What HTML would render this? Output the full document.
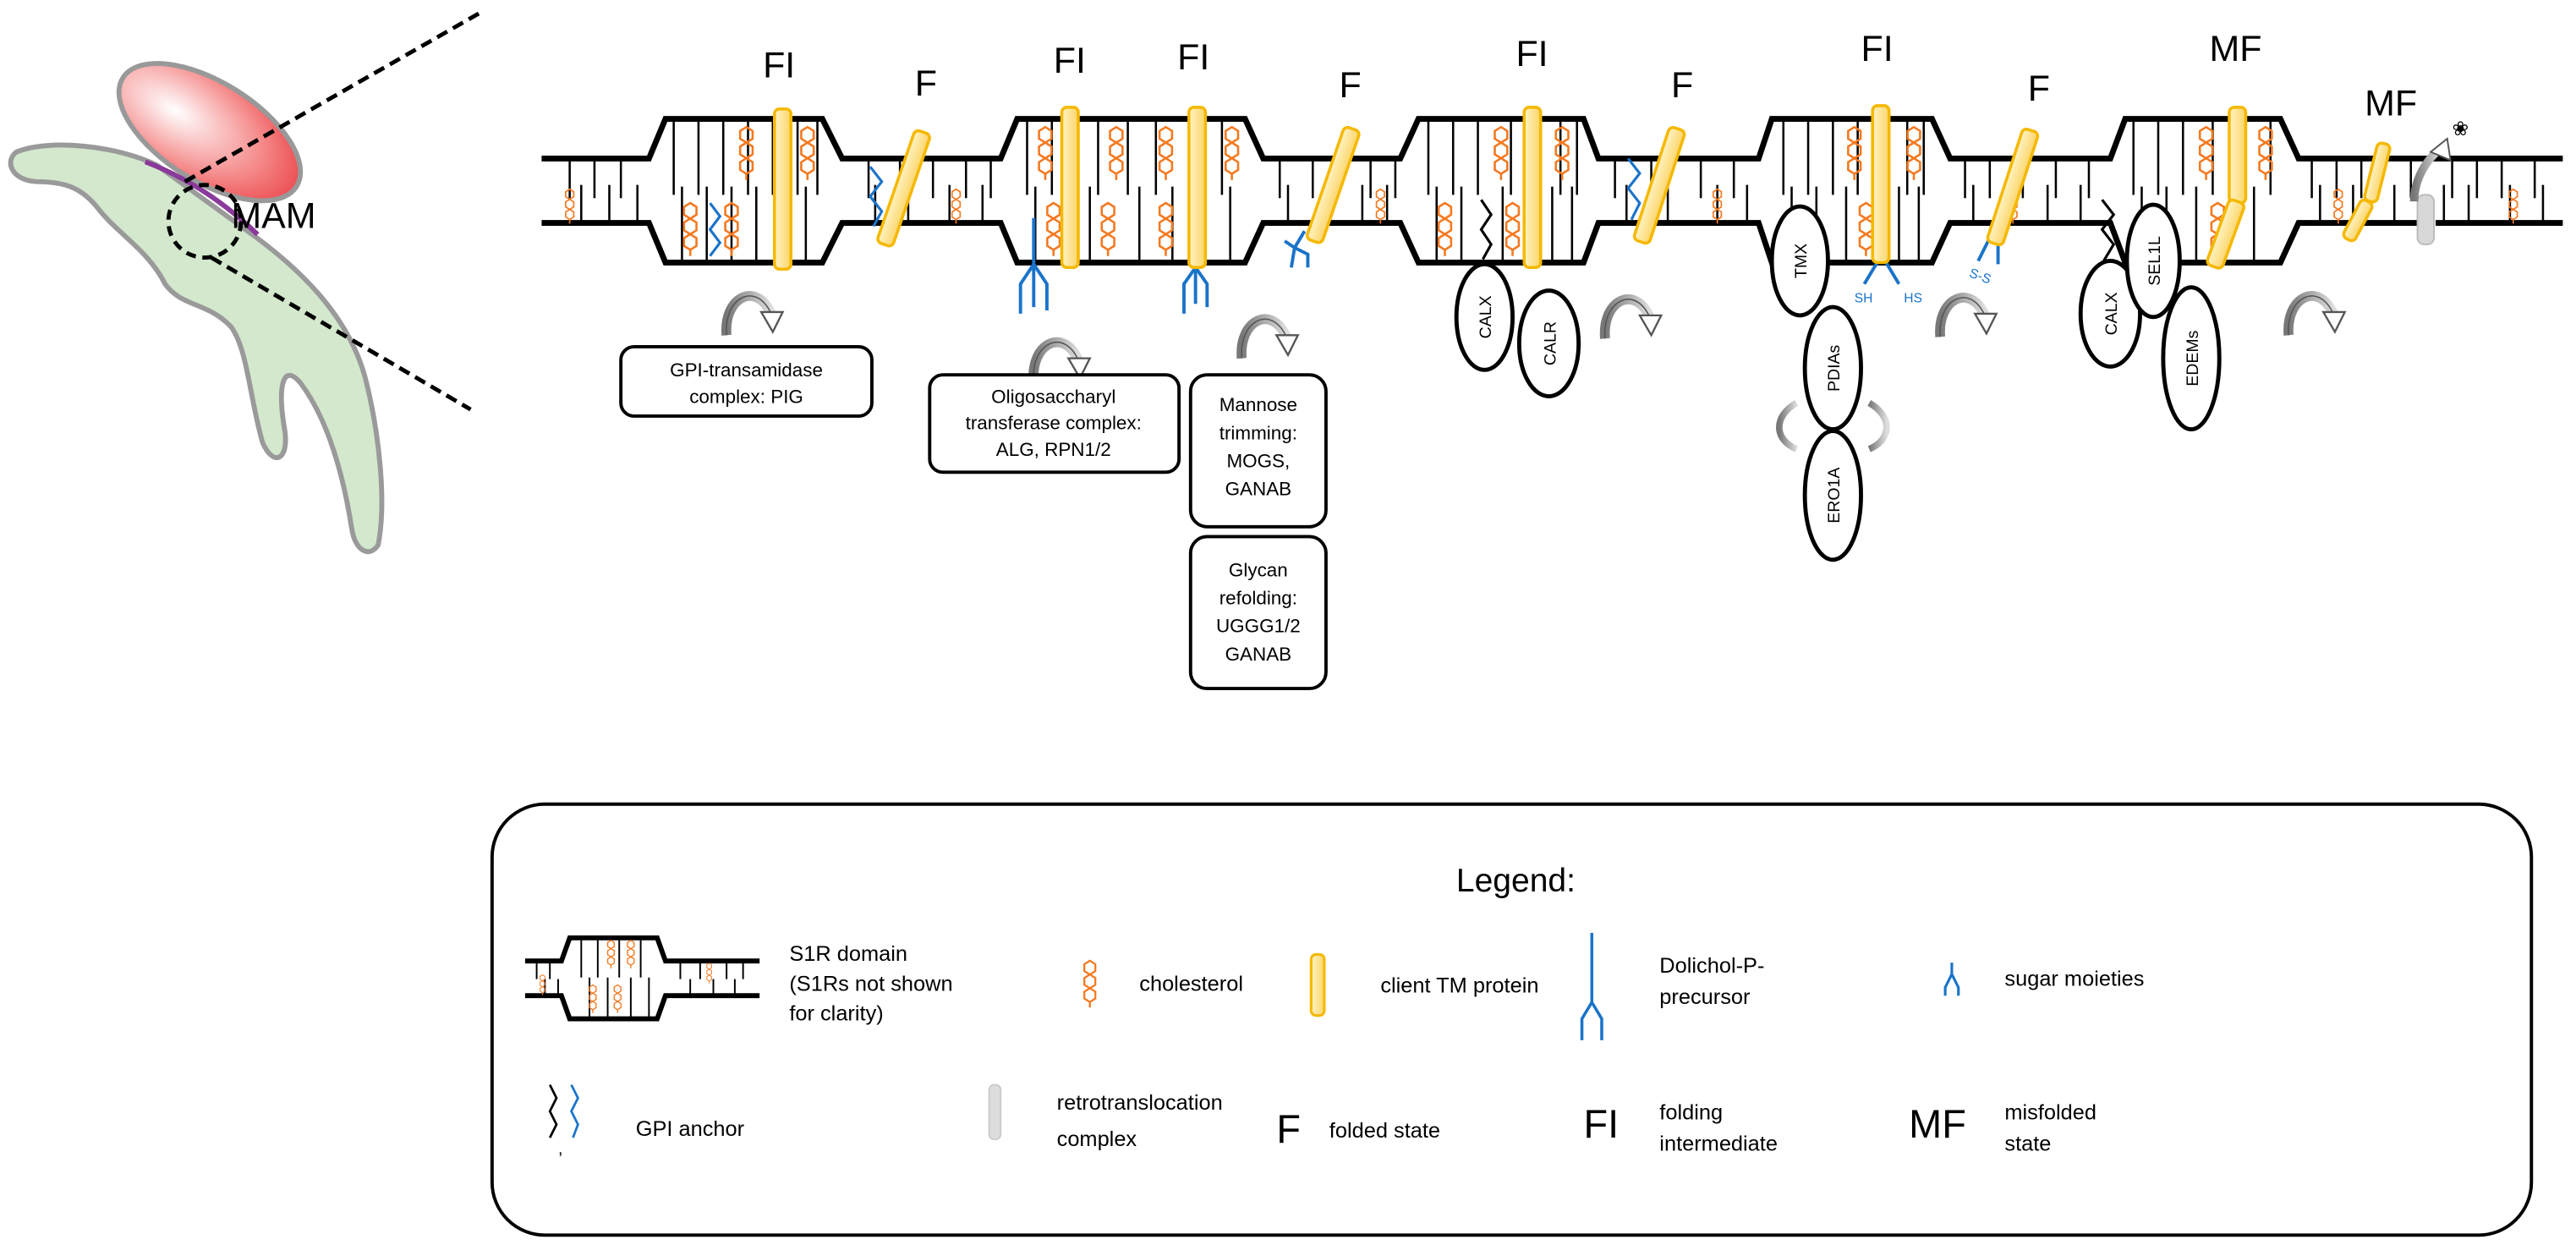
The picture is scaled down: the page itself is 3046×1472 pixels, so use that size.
<!DOCTYPE html>
<html><head><meta charset="utf-8"><style>
html,body{margin:0;padding:0;background:#fff;}
svg{display:block;}
text{font-family:"Liberation Sans",sans-serif;}
</style></head><body>
<svg width="3046" height="1472" viewBox="0 0 1560 754" preserveAspectRatio="none" xmlns="http://www.w3.org/2000/svg">
<defs>
<linearGradient id="tm" x1="0" x2="1"><stop offset="0" stop-color="#fff3c4"/><stop offset="1" stop-color="#fbd56a"/></linearGradient>
<radialGradient id="mam" cx="0.3" cy="0.5" r="0.8"><stop offset="0" stop-color="#ffffff"/><stop offset="0.6" stop-color="#f58a8a"/><stop offset="1" stop-color="#e8343a"/></radialGradient>
<linearGradient id="gr" x1="0" x2="1"><stop offset="0" stop-color="#777"/><stop offset="1" stop-color="#ddd"/></linearGradient>
<symbol id="ch" viewBox="0 0 12 36"><g fill="none" stroke="#f47920" stroke-width="1.4"><polygon points="6,1 10,3.5 10,8.5 6,11 2,8.5 2,3.5"/><polygon points="6,11 10,13.5 10,18.5 6,21 2,18.5 2,13.5"/><polygon points="6,21 10,23.5 10,28.5 6,31 2,28.5 2,23.5"/><line x1="6" y1="31" x2="6" y2="35"/></g></symbol>
<symbol id="rot" viewBox="0 0 44 32"><path d="M6,31 C4,8 24,-2 33,18" fill="none" stroke="url(#gr)" stroke-width="6"/><path d="M6,31 C4,8 24,-2 33,18" fill="none" stroke="#555" stroke-width="0.8"/><polygon points="27,17 40,17 34,29" fill="#fff" stroke="#555" stroke-width="1.2"/></symbol>
</defs>

<!-- left cell -->
<path d="M10,92 C30,84 70,88 95,100 L150,140 C178,160 212,190 222,232 C230,265 234,305 229,330 C224,338 215,334 213,320 C207,282 197,252 182,232 C172,220 168,232 172,258 C176,278 166,284 159,268 C151,240 150,212 140,198 C126,183 110,186 100,172 C90,152 72,142 60,127 C50,114 40,110 22,110 C6,109 3,97 10,92 Z" fill="#d3e8cd" stroke="#9a9a9a" stroke-width="3"/>
<ellipse cx="127" cy="80" rx="62" ry="30" transform="rotate(32 127 80)" fill="url(#mam)" stroke="#999" stroke-width="3"/>
<path d="M88,98 Q125,112 156,142" fill="none" stroke="#8a3a9a" stroke-width="3"/>
<circle cx="124" cy="134" r="22" fill="none" stroke="#000" stroke-width="2.5" stroke-dasharray="6,4"/>
<text x="140" y="138" font-size="22">MAM</text>
<line x1="112" y1="110" x2="292" y2="7" stroke="#000" stroke-width="2.5" stroke-dasharray="7,4"/>
<line x1="128" y1="156" x2="285" y2="248" stroke="#000" stroke-width="2.5" stroke-dasharray="7,4"/>

<!-- membrane leaflet lines -->
<g stroke="#000" stroke-width="1.3">
<path d="M345,96V120 M360,96V120 M376,96V120 M352,112V135 M369,112V135 M386,112V135
M408,72V118 M423,72V118 M438,72V118 M453,72V118 M468,72V118 M483,72V118 M495,72V118
M413,113V159 M428,113V159 M443,113V159 M458,113V159 M473,113V159 M488,113V159
M526,96V120 M545,96V120 M565,96V120 M585,96V120 M600,96V120 M530,112V135 M550,112V135 M575,112V135 M595,112V135
M622,72V118 M637,72V118 M665,72V118 M683,72V118 M700,72V118 M740,72V118 M627,113V159 M645,113V159 M660,113V159 M690,113V159 M710,113V159 M745,113V159
M775,96V120 M795,96V120 M830,96V120 M845,96V120 M780,112V135 M805,112V135 M825,112V135 M840,112V135
M865,72V118 M880,72V118 M895,72V118 M915,72V118 M945,72V118 M955,72V118 M870,113V159 M885,113V159 M910,113V159 M940,113V159 M952,113V159
M978,96V120 M1000,96V120 M1030,96V120 M1050,96V120 M985,112V135 M1010,112V135 M1040,112V135 M1058,112V135
M1080,72V118 M1095,72V118 M1110,72V118 M1125,72V118 M1155,72V118 M1165,72V118 M1085,113V159 M1100,113V159 M1118,113V159 M1150,113V159 M1162,113V159
M1190,96V120 M1205,96V120 M1225,96V120 M1245,96V120 M1265,96V120 M1195,112V135 M1215,112V135 M1240,112V135 M1260,112V135
M1292,72V118 M1307,72V118 M1322,72V118 M1340,72V118 M1375,72V118 M1297,113V159 M1312,113V159 M1330,113V159 M1365,113V159
M1400,96V120 M1415,96V120 M1430,96V120 M1460,96V120 M1485,96V120 M1500,96V120 M1515,96V120 M1535,96V120 M1405,112V135 M1425,112V135 M1450,112V135 M1480,112V135 M1495,112V135 M1520,112V135 M1540,112V135"/>
</g>
<!-- membrane outline -->
<path d="M328,96 H393 L403,72 H498 L510,96 H606 L616,72 H754 L765,96 H848 L859,72 H959 L968,96 H1065 L1073,72 H1170 L1181,96 H1278 L1287,72 H1381 L1392,96 H1552" fill="none" stroke="#000" stroke-width="3.5"/>
<path d="M328,135 H393 L403,159 H498 L510,135 H606 L616,159 H754 L765,135 H848 L859,159 H959 L968,135 H1065 L1073,159 H1170 L1181,135 H1278 L1287,159 H1381 L1392,135 H1464 M1475,135 H1552" fill="none" stroke="#000" stroke-width="3.5"/>

<!-- cholesterols -->
<g>
<use href="#ch" x="341" y="114" width="8" height="22"/>
<use href="#ch" x="446" y="76" width="12" height="34"/><use href="#ch" x="483" y="76" width="12" height="34"/>
<use href="#ch" x="412" y="122" width="12" height="34"/><use href="#ch" x="437" y="122" width="12" height="34"/>
<use href="#ch" x="575" y="114" width="8" height="22"/>
<use href="#ch" x="627" y="76" width="12" height="34"/><use href="#ch" x="670" y="76" width="12" height="34"/><use href="#ch" x="700" y="76" width="12" height="34"/><use href="#ch" x="740" y="76" width="12" height="34"/>
<use href="#ch" x="632" y="122" width="12" height="34"/><use href="#ch" x="665" y="122" width="12" height="34"/><use href="#ch" x="700" y="122" width="12" height="34"/>
<use href="#ch" x="832" y="114" width="8" height="22"/>
<use href="#ch" x="903" y="76" width="12" height="34"/><use href="#ch" x="940" y="76" width="12" height="34"/>
<use href="#ch" x="869" y="122" width="12" height="34"/><use href="#ch" x="910" y="122" width="12" height="34"/>
<use href="#ch" x="1036" y="114" width="8" height="22"/>
<use href="#ch" x="1117" y="76" width="12" height="34"/><use href="#ch" x="1153" y="76" width="12" height="34"/>
<use href="#ch" x="1124" y="122" width="12" height="34"/>
<use href="#ch" x="1215" y="114" width="8" height="22"/>
<use href="#ch" x="1330" y="76" width="12" height="34"/><use href="#ch" x="1366" y="76" width="12" height="34"/>
<use href="#ch" x="1337" y="122" width="12" height="34"/>
<use href="#ch" x="1412" y="114" width="8" height="22"/><use href="#ch" x="1518" y="114" width="8" height="22"/>
</g>

<!-- GPI anchors and glycans -->
<g fill="none" stroke-width="1.6">
<polyline points="430,123 436,131 430,139 436,147 430,155" stroke="#1a73c9"/>
<polyline points="527,101 534,110 527,119 534,128 529,137" stroke="#1a73c9"/>
<polyline points="986,96 993,105 986,114 993,123 988,133" stroke="#1a73c9"/>
<polyline points="897,121 903,130 897,139 903,148 898,157" stroke="#000"/>
<polyline points="1273,121 1280,130 1273,139 1280,148 1274,158" stroke="#000"/>
<path d="M626,132 V160 M626,160 L618,172 V190 M626,160 L634,172 V188 M626,160 V186" stroke="#1a73c9" stroke-width="2"/>
<path d="M724,152 V162 L717,172 V190 M724,162 L731,172 V186 M724,162 V184" stroke="#1a73c9" stroke-width="2"/>
<path d="M790,140 L784,150 L778,146 M784,150 L782,162 M784,150 L792,154 V162" stroke="#1a73c9" stroke-width="2"/>
<path d="M1138,157 L1129,172 M1141,157 L1150,172" stroke="#1a73c9" stroke-width="2"/>
<path d="M1204,146 L1198,158 M1210,146 L1210,160" stroke="#1a73c9" stroke-width="2"/>
</g>
<text x="1123" y="183" font-size="8" fill="#1a73c9">SH</text>
<text x="1153" y="183" font-size="8" fill="#1a73c9">HS</text>
<text x="1193" y="170" font-size="8" fill="#1a73c9" transform="rotate(20 1200 166)">S-S</text>

<!-- TM proteins -->
<g fill="url(#tm)" stroke="#f5b800" stroke-width="1.8">
<rect x="469" y="66" width="10" height="97" rx="3"/>
<rect x="643" y="65" width="10" height="97" rx="3"/>
<rect x="720" y="65" width="10" height="97" rx="3"/>
<rect x="923" y="65" width="10" height="97" rx="3"/>
<rect x="1134" y="64" width="10" height="95" rx="3"/>
<rect x="1350" y="65" width="10" height="58" rx="3"/>
<rect x="-5" y="0" width="10" height="72" rx="3" transform="translate(559,80) rotate(19)"/>
<rect x="-5" y="0" width="10" height="72" rx="3" transform="translate(819,78) rotate(19)" />
<rect x="-5" y="0" width="10" height="72" rx="3" transform="translate(1016,78) rotate(18)"/>
<rect x="-5" y="0" width="10" height="72" rx="3" transform="translate(1230,79) rotate(18)"/>
<rect x="-5" y="0" width="10" height="42" rx="3" transform="translate(1355,122) rotate(20)"/>
<rect x="-4" y="0" width="8" height="36" rx="3" transform="translate(1444,87) rotate(14)"/>
<rect x="-4" y="0" width="8" height="26" rx="3" transform="translate(1434,122) rotate(28)"/>
</g>
<!-- retrotranslocation -->
<rect x="1464" y="118" width="10" height="30" rx="4" fill="#d8d8d8" stroke="#bbb"/>
<path d="M1462,122 C1462,108 1470,96 1478,90" fill="none" stroke="url(#gr)" stroke-width="5"/>
<polygon points="1472,92 1482,84 1484,97" fill="#fff" stroke="#555" stroke-width="1"/>
<text x="1485" y="82" font-size="12">❀</text>

<!-- state labels -->
<g font-size="22">
<text x="462" y="47">FI</text><text x="554" y="58">F</text>
<text x="638" y="44">FI</text><text x="713" y="42">FI</text><text x="811" y="59">F</text>
<text x="918" y="40">FI</text><text x="1012" y="59">F</text>
<text x="1127" y="37">FI</text><text x="1228" y="61">F</text>
<text x="1338" y="37">MF</text><text x="1432" y="70">MF</text>
</g>

<!-- rotation arrows -->
<use href="#rot" x="434" y="172" width="44" height="32"/>
<use href="#rot" x="620" y="200" width="44" height="32"/>
<use href="#rot" x="746" y="186" width="44" height="32"/>
<use href="#rot" x="966" y="174" width="44" height="32"/>
<use href="#rot" x="1169" y="173" width="44" height="32"/>
<use href="#rot" x="1380" y="172" width="44" height="32"/>
<path d="M1088,244 C1074,252 1074,266 1088,272" fill="none" stroke="url(#gr)" stroke-width="4"/>
<path d="M1132,244 C1146,252 1146,266 1132,272" fill="none" stroke="url(#gr)" stroke-width="4"/>

<!-- boxes -->
<g fill="#fff" stroke="#000" stroke-width="2">
<rect x="376" y="210" width="152" height="42" rx="8"/>
<rect x="563" y="227" width="151" height="59" rx="8"/>
<rect x="721" y="227" width="82" height="92" rx="10"/>
<rect x="721" y="325" width="82" height="92" rx="10"/>
</g>
<g font-size="11.5" text-anchor="middle">
<text x="452" y="228">GPI-transamidase</text><text x="452" y="244">complex: PIG</text>
<text x="638" y="244">Oligosaccharyl</text><text x="638" y="260">transferase complex:</text><text x="638" y="276">ALG, RPN1/2</text>
<text x="762" y="249">Mannose</text><text x="762" y="266">trimming:</text><text x="762" y="283">MOGS,</text><text x="762" y="300">GANAB</text>
<text x="762" y="349">Glycan</text><text x="762" y="366">refolding:</text><text x="762" y="383">UGGG1/2</text><text x="762" y="400">GANAB</text>
</g>

<!-- chaperones -->
<g fill="#fff" stroke="#000" stroke-width="2.5">
<ellipse cx="899" cy="192" rx="17" ry="32"/>
<ellipse cx="938" cy="208" rx="18" ry="32"/>
<ellipse cx="1090" cy="158" rx="17" ry="33"/>
<ellipse cx="1110" cy="223" rx="17" ry="37"/>
<ellipse cx="1110" cy="300" rx="17" ry="39"/>
<ellipse cx="1278" cy="190" rx="18" ry="32"/>
<ellipse cx="1304" cy="158" rx="16" ry="34"/>
<ellipse cx="1327" cy="217" rx="17" ry="43"/>
</g>
<g font-size="10" text-anchor="middle">
<text transform="translate(903,192) rotate(-90)">CALX</text>
<text transform="translate(942,208) rotate(-90)">CALR</text>
<text transform="translate(1094,158) rotate(-90)">TMX</text>
<text transform="translate(1114,223) rotate(-90)">PDIAs</text>
<text transform="translate(1114,300) rotate(-90)">ERO1A</text>
<text transform="translate(1282,190) rotate(-90)">CALX</text>
<text transform="translate(1308,158) rotate(-90)">SEL1L</text>
<text transform="translate(1331,217) rotate(-90)">EDEMs</text>
</g>

<!-- legend -->
<rect x="298" y="487" width="1235" height="261" rx="32" fill="#fff" stroke="#000" stroke-width="2"/>
<text x="918" y="540" font-size="20" text-anchor="middle">Legend:</text>
<path d="M318,582 H340 L345,568 H398 L403,582 H460 M318,603 H340 L345,617 H398 L403,603 H460" fill="none" stroke="#000" stroke-width="3"/>
<g stroke="#000" stroke-width="1"><path d="M325,582V593 M333,582V593 M352,568V592 M362,568V592 M375,568V592 M388,568V592 M412,582V593 M424,582V593 M440,582V593 M450,582V593 M330,593V603 M338,593V603 M357,592V617 M368,592V617 M382,592V617 M393,592V617 M418,593V603 M432,593V603 M445,593V603"/></g>
<use href="#ch" x="326" y="590" width="5" height="13"/><use href="#ch" x="367" y="569" width="6" height="18"/><use href="#ch" x="379" y="569" width="6" height="18"/><use href="#ch" x="356" y="596" width="6" height="18"/><use href="#ch" x="371" y="596" width="6" height="18"/><use href="#ch" x="427" y="583" width="5" height="13"/>
<g font-size="13">
<text x="478" y="582">S1R domain</text><text x="478" y="600">(S1Rs not shown</text><text x="478" y="618">for clarity)</text>
<text x="690" y="600">cholesterol</text>
<text x="836" y="601">client TM protein</text>
<text x="1005" y="589">Dolichol-P-</text><text x="1005" y="608">precursor</text>
<text x="1214" y="597">sugar moieties</text>
<text x="385" y="688">GPI anchor</text>
<text x="640" y="672">retrotranslocation</text><text x="640" y="694">complex</text>
<text x="805" y="689">folded state</text>
<text x="1005" y="678">folding</text><text x="1005" y="697">intermediate</text>
<text x="1214" y="678">misfolded</text><text x="1214" y="697">state</text>
</g>
<use href="#ch" x="655" y="580" width="10" height="32"/>
<rect x="794" y="578" width="8" height="37" rx="3" fill="url(#tm)" stroke="#f5b800" stroke-width="1.6"/>
<path d="M964,565 V607 L958,617 V630 M964,607 L970,617 V630" fill="none" stroke="#1a73c9" stroke-width="1.8"/>
<path d="M1182,583 V590 L1178,598 V603 M1182,590 L1186,598 V603" fill="none" stroke="#1a73c9" stroke-width="1.6"/>
<polyline points="333,657 337,665 333,673 337,681 333,689" fill="none" stroke="#000" stroke-width="1.4"/>
<polyline points="346,657 350,665 346,673 350,681 347,689" fill="none" stroke="#1a73c9" stroke-width="1.4"/>
<text x="338" y="699" font-size="10">,</text>
<rect x="599" y="657" width="7" height="33" rx="3" fill="#ddd" stroke="#ccc"/>
<text x="773" y="692" font-size="24">F</text>
<text x="959" y="689" font-size="24">FI</text>
<text x="1156" y="689" font-size="24">MF</text>
</svg>
</body></html>
